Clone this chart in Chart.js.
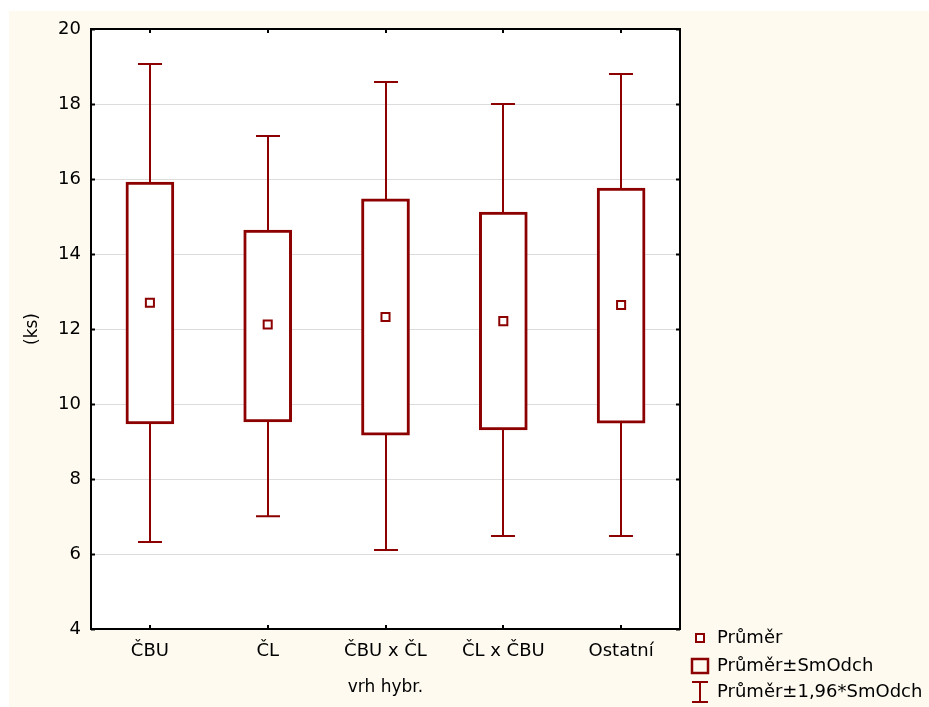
<!DOCTYPE html>
<html>
<head>
<meta charset="utf-8">
<script src="https://cdn.jsdelivr.net/npm/chart.js@4.4.1/dist/chart.umd.min.js"></script>
<style>
  html, body { margin: 0; padding: 0; background: #ffffff; }
  #wrap { position: absolute; left: 9px; top: 11px; width: 920px; height: 696px; background: #fefaf0; }
</style>
</head>
<body>
<div id="wrap"><canvas id="chart" width="920" height="696"></canvas></div>
<script>
// groups and summary values
const categories = ["ČBU", "ČL", "ČBU x ČL", "ČL x ČBU", "Ostatní"];
const means  = [12.70, 12.12, 12.32, 12.21, 12.64];
const sdLow  = [9.47, 9.52, 9.17, 9.31, 9.49];
const sdHigh = [15.92, 14.64, 15.47, 15.12, 15.76];
const ciLow  = [6.32, 7.01, 6.11, 6.48, 6.48];
const ciHigh = [19.07, 17.15, 18.59, 18.00, 18.80];
const yMin = 4, yMax = 20, yStep = 2;

const legendLabels = ["Průměr", "Průměr±SmOdch", "Průměr±1,96*SmOdch"];

const red = "#8c0000";
const font = "DejaVu Sans";

Chart.defaults.font.family = font;
Chart.defaults.color = "#000";

const plotBg = {
  id: "plotBg",
  beforeDraw(chart) {
    const { ctx, chartArea: a } = chart;
    ctx.save();
    ctx.fillStyle = "#ffffff";
    ctx.fillRect(a.left, a.top, a.right - a.left, a.bottom - a.top);
    ctx.restore();
  }
};

// whiskers (mean ± 1.96 SD), drawn under the boxes
const whiskers = {
  id: "whiskers",
  beforeDatasetsDraw(chart) {
    const { ctx, scales: { x, y } } = chart;
    ctx.save();
    ctx.strokeStyle = red;
    ctx.lineWidth = 2;
    categories.forEach((c, i) => {
      const px = Math.round(x.getPixelForValue(i));
      const lo = y.getPixelForValue(ciLow[i]);
      const hi = y.getPixelForValue(ciHigh[i]);
      ctx.beginPath();
      ctx.moveTo(px, lo); ctx.lineTo(px, hi);
      ctx.moveTo(px - 12, lo); ctx.lineTo(px + 12, lo);
      ctx.moveTo(px - 12, hi); ctx.lineTo(px + 12, hi);
      ctx.stroke();
    });
    ctx.restore();
  }
};

// black frame with small inward ticks
const frame = {
  id: "frame",
  afterDatasetsDraw(chart) {
    const { ctx, chartArea: a, scales: { x, y } } = chart;
    ctx.save();
    ctx.strokeStyle = "#000";
    ctx.lineWidth = 2;
    ctx.strokeRect(a.left, a.top, a.right - a.left, a.bottom - a.top);
    ctx.beginPath();
    y.ticks.forEach((t, i) => {
      const py = Math.round(y.getPixelForTick(i)) + 0.5;
      ctx.moveTo(a.left, py); ctx.lineTo(a.left + 4, py);
      ctx.moveTo(a.right, py); ctx.lineTo(a.right - 4, py);
    });
    x.ticks.forEach((t, i) => {
      const px = Math.round(x.getPixelForTick(i));
      ctx.moveTo(px, a.top); ctx.lineTo(px, a.top + 4);
      ctx.moveTo(px, a.bottom); ctx.lineTo(px, a.bottom - 4);
    });
    ctx.stroke();
    ctx.restore();
  }
};

const legendBox = {
  id: "legendBox",
  afterDraw(chart) {
    const { ctx, chartArea: a } = chart;
    const cx = a.right + 20;
    const tx = a.right + 37;
    const rows = [a.bottom + 9, a.bottom + 37, a.bottom + 63];
    ctx.save();
    ctx.strokeStyle = red;
    ctx.fillStyle = "#fff";
    ctx.lineWidth = 2;
    ctx.fillRect(cx - 4, rows[0] - 4, 8, 8);
    ctx.strokeRect(cx - 4, rows[0] - 4, 8, 8);
    ctx.lineWidth = 2.5;
    ctx.strokeRect(cx - 8, rows[1] - 7, 16, 14);
    ctx.lineWidth = 2;
    ctx.beginPath();
    ctx.moveTo(cx, rows[2] - 10); ctx.lineTo(cx, rows[2] + 10);
    ctx.moveTo(cx - 8, rows[2] - 10); ctx.lineTo(cx + 8, rows[2] - 10);
    ctx.moveTo(cx - 8, rows[2] + 10); ctx.lineTo(cx + 8, rows[2] + 10);
    ctx.stroke();
    ctx.fillStyle = "#000";
    ctx.font = "18px '" + font + "'";
    ctx.textBaseline = "middle";
    legendLabels.forEach((t, i) => ctx.fillText(t, tx, rows[i]));
    ctx.restore();
  }
};

new Chart(document.getElementById("chart"), {
  type: "bar",
  data: {
    labels: categories,
    datasets: [
      {
        type: "line",
        label: legendLabels[0],
        data: means,
        showLine: false,
        pointStyle: "rect",
        pointRadius: 5.7,
        pointBorderWidth: 2,
        pointBackgroundColor: "#fff",
        pointBorderColor: red,
        order: 0
      },
      {
        label: legendLabels[1],
        data: sdLow.map((v, i) => [v, sdHigh[i]]),
        backgroundColor: "#fff",
        borderColor: red,
        borderWidth: 3,
        borderSkipped: false,
        barThickness: 48,
        order: 1
      }
    ]
  },
  options: {
    responsive: false,
    animation: false,
    devicePixelRatio: 1,
    layout: { padding: { top: 18, right: 249, left: 0, bottom: 0 } },
    plugins: {
      legend: { display: false },
      tooltip: { enabled: false }
    },
    scales: {
      x: {
        grid: { display: false, drawTicks: false },
        border: { display: false },
        ticks: { font: { size: 18 }, padding: 12 },
        title: { display: true, text: "vrh hybr.", font: { size: 17 }, padding: { bottom: 9 } },
        afterFit(s) { s.height = 78; }
      },
      y: {
        min: yMin,
        max: yMax,
        grid: { color: "#dcdcdc", lineWidth: 1, drawTicks: false },
        border: { display: false },
        ticks: { stepSize: yStep, font: { size: 18 }, padding: 10 },
        title: { display: true, text: "(ks)", font: { size: 17 }, padding: { top: 13 } },
        afterFit(s) { s.width = 82; s.paddingTop = 8; s.paddingBottom = 8; }
      }
    }
  },
  plugins: [plotBg, whiskers, frame, legendBox]
});
</script>
</body>
</html>
